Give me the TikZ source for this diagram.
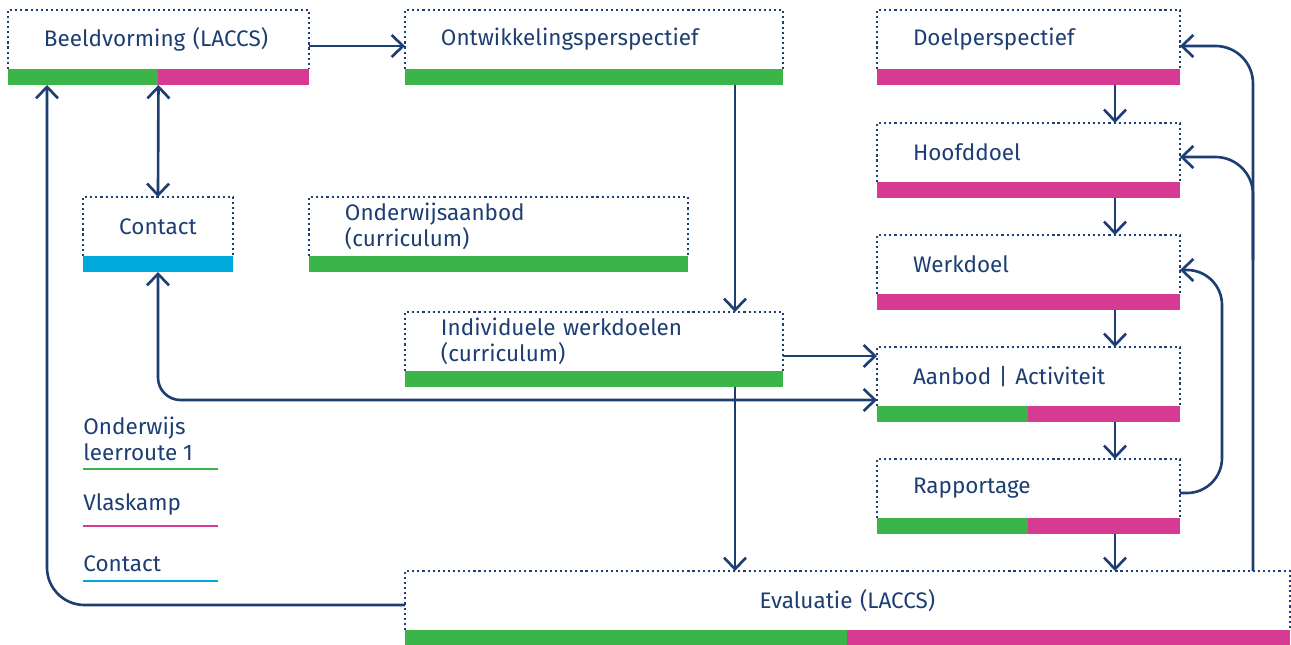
\documentclass[tikz,border=0pt]{standalone}
\usepackage{fontspec}
\setmainfont{Fira Sans}
\usepackage{tikz}
\usetikzlibrary{arrows.meta,calc}
\usepackage{xcolor}
\definecolor{navy}{RGB}{28,62,114}
\definecolor{ogreen}{RGB}{59,180,74}
\definecolor{omagenta}{RGB}{214,58,146}
\definecolor{ocyan}{RGB}{0,169,220}

\begin{document}
\begin{tikzpicture}[
    x=0.02cm, y=-0.02cm,
    >={Straight Barb[length=2.3mm, width=4.4mm, line width=1.5pt]},
    stagebox/.style={text width=#1-1.44cm, minimum height=1.18cm, inner xsep=0.72cm, inner ysep=0pt, outer sep=0pt, anchor=north west, align=left, font=\fontsize{12.8pt}{14.5pt}\selectfont, text=navy},
    stagebar/.style={minimum width=#1, minimum height=0.32cm, inner sep=0pt, outer sep=0pt, anchor=north west},
    dotline/.style={navy, line width=1.3pt, dash pattern=on 1.2pt off 1.7pt},
    arr/.style={navy, line width=1.5pt},
    legtext/.style={font=\fontsize{12.8pt}{14.5pt}\selectfont, text=navy, align=left, inner sep=0pt, anchor=south west},
    legline/.style={line width=1.7pt}
  ]
    \useasboundingbox (0,0) rectangle (1291,645);

    % boxes
    \node[stagebox=6.02cm] (beeld) at (8,10) {Beeldvorming (LACCS)};
    \node[stagebox=7.56cm] (ontw) at (405,10) {Ontwikkelingsperspectief};
    \node[stagebox=6.06cm] (doel) at (877,10) {Doelperspectief};
    \node[stagebox=6.06cm] (hoofd) at (877,123) {Hoofddoel};
    \node[stagebox=6.06cm] (werk) at (877,235) {Werkdoel};
    \node[stagebox=6.06cm] (aanbod) at (877,347) {Aanbod | Activiteit};
    \node[stagebox=6.06cm] (rapp) at (877,459) {Rapportage};
    \node[stagebox=3.0cm, align=center] (contact) at (83,197) {Contact};
    \node[stagebox=7.58cm] (onderw) at (309,197) {Onderwijsaanbod\\(curriculum)};
    \node[stagebox=7.56cm] (indiv) at (405,312) {Individuele werkdoelen\\(curriculum)};
    \node[stagebox=17.7cm, align=center] (eval) at (405,571) {Evaluatie (LACCS)};

    \foreach \n in {beeld,ontw,doel,hoofd,werk,aanbod,rapp,contact,onderw,indiv,eval}
      \draw[dotline] (\n.south west) -- (\n.north west) -- (\n.north east) -- (\n.south east);

    % colour bars
    \node[stagebar=6.02cm, fill=omagenta] (beeldbar) at (beeld.south west) {};
    \node[stagebar=7.56cm, fill=ogreen] (ontwbar) at (ontw.south west) {};
    \node[stagebar=6.06cm, fill=omagenta] (doelbar) at (doel.south west) {};
    \node[stagebar=6.06cm, fill=omagenta] (hoofdbar) at (hoofd.south west) {};
    \node[stagebar=6.06cm, fill=omagenta] (werkbar) at (werk.south west) {};
    \node[stagebar=6.06cm, fill=omagenta] (aanbodbar) at (aanbod.south west) {};
    \node[stagebar=6.06cm, fill=omagenta] (rappbar) at (rapp.south west) {};
    \node[stagebar=3.0cm, fill=ocyan] (contactbar) at (contact.south west) {};
    \node[stagebar=7.58cm, fill=ogreen] (onderwbar) at (onderw.south west) {};
    \node[stagebar=7.56cm, fill=ogreen] (indivbar) at (indiv.south west) {};
    \node[stagebar=17.7cm, fill=omagenta] (evalbar) at (eval.south west) {};
    \foreach \n in {beeld,aanbod,rapp,eval}
      \fill[ogreen] (\n bar.north west) rectangle (\n bar.south);

    % legend
    \node[legtext] (legonderw) at (83,461) {Onderwijs\\leerroute 1};
    \node[legtext] (legvlas) at (83,516) {Vlaskamp};
    \node[legtext] (legcontact) at (83,572) {Contact};
    \draw[legline, ogreen] (legonderw.south west) ++(0,8) -- ++(135,0);
    \draw[legline, omagenta] (legvlas.south west) ++(0,10) -- ++(135,0);
    \draw[legline, ocyan] (legcontact.south west) ++(0,9) -- ++(135,0);

    % connectors
    \coordinate (spine) at (735,0);
    \coordinate (chain) at (1115,0);
    \coordinate (ret) at (1253,0);

    \draw[arr, ->] (beeld.east |- 0,46) -- (ontw.west |- 0,46);
    \draw[arr, ->] (ontwbar.south -| spine) -- (indiv.north -| spine);
    \draw[arr, <->] (beeldbar.south) -- (contact.north);
    \draw[arr, <->, rounded corners=0.45cm] (contactbar.south) |- (aanbod.west |- 0,400);
    \draw[arr, ->] (indiv.east |- 0,356) -- (aanbod.west |- 0,356);
    \draw[arr, ->] (indivbar.south -| spine) -- (eval.north -| spine);
    \foreach \a/\b in {doel/hoofd, hoofd/werk, werk/aanbod, aanbod/rapp, rapp/eval}
      \draw[arr, ->] (\a bar.south -| chain) -- (\b.north -| chain);
    \draw[arr, ->, rounded corners=0.7cm] (rapp.east |- 0,493) -- (1222,493) -- (1222,270) -- (werk.east |- 0,270);
    \draw[arr, ->, rounded corners=0.75cm] (eval.north -| ret) -- (ret |- 0,46) -- (doel.east |- 0,46);
    \draw[arr, ->, rounded corners=0.75cm] (ret |- 0,260) -- (ret |- 0,157) -- (hoofd.east |- 0,157);
    \draw[arr, ->, rounded corners=0.75cm] (eval.west |- 0,605) -| (beeldbar.south -| 47,0);
  \end{tikzpicture}
\end{document}
